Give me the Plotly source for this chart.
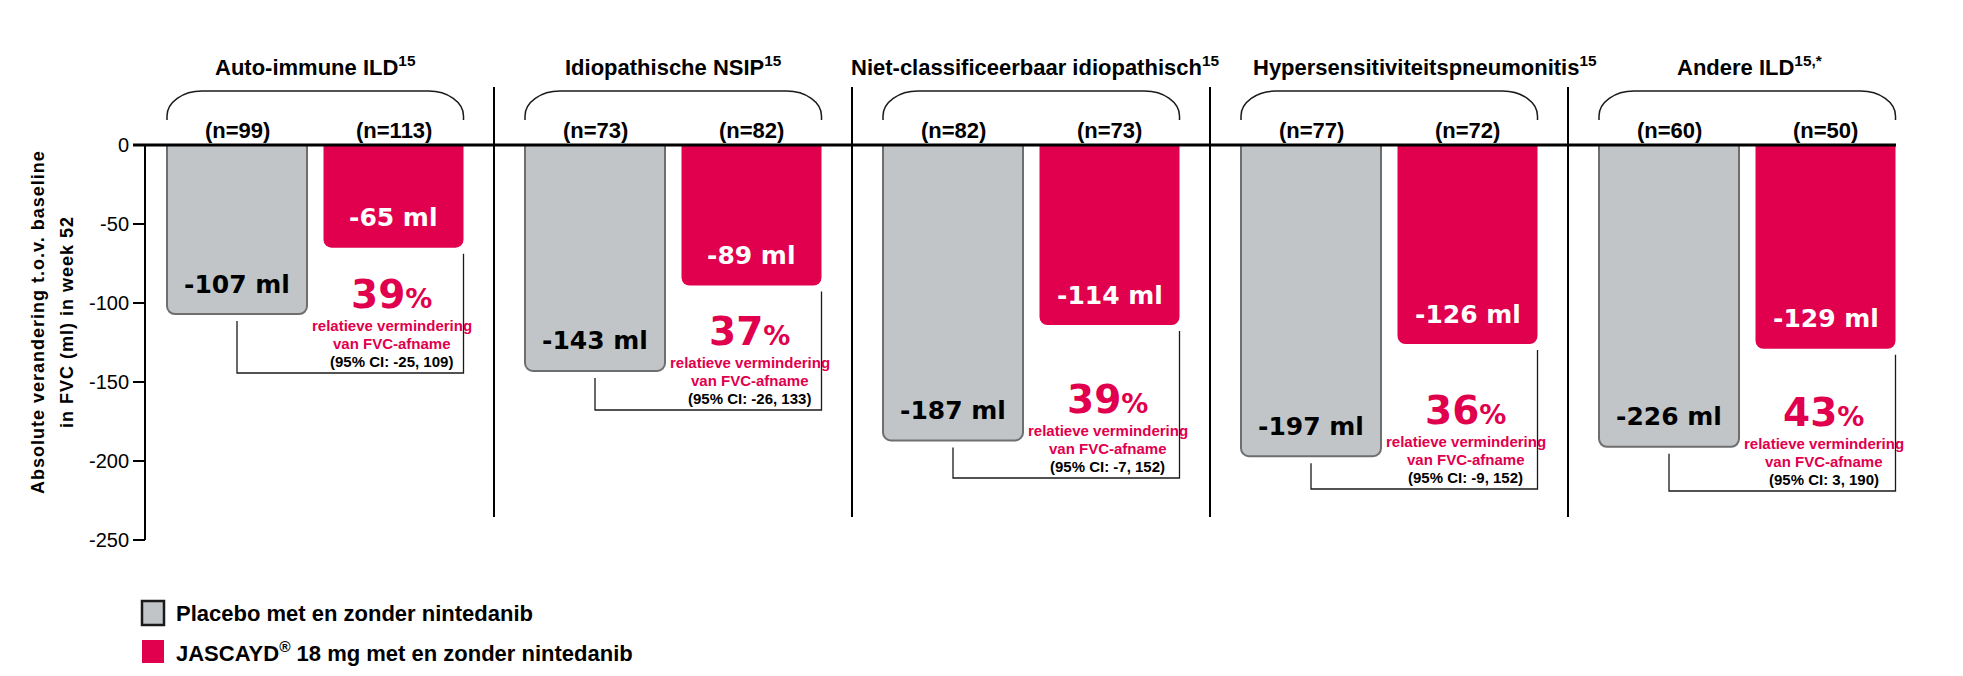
import plotly.graph_objects as go

# ---------------- data ----------------
groups = [
    "Auto-immune ILD<sup>15</sup>",
    "Idiopathische NSIP<sup>15</sup>",
    "Niet-classificeerbaar idiopathisch<sup>15</sup>",
    "Hypersensitiviteitspneumonitis<sup>15</sup>",
    "Andere ILD<sup>15,*</sup>",
]
n_placebo = [99, 73, 82, 77, 60]
n_jascayd = [113, 82, 73, 72, 50]
placebo_ml = [-107, -143, -187, -197, -226]      # printed values
placebo_bar = [-107, -143, -187, -197, -191]     # bar length as drawn in the picture
jascayd_ml = [-65, -89, -114, -126, -129]
rel_reduction = [39, 37, 39, 36, 43]
ci_low = [-25, -26, -7, -9, 3]
ci_high = [109, 133, 152, 152, 190]
y_ticks = [0, -50, -100, -150, -200, -250]
series_names = ["Placebo met en zonder nintedanib",
                "JASCAYD<sup>®</sup> 18 mg met en zonder nintedanib"]
y_title = ["Absolute verandering t.o.v. baseline", "in FVC (ml) in week 52"]

# ---------------- layout constants ----------------
W, H = 1963, 676
Y0 = 145.0        # pixel row of value 0
PXU = 1.58        # pixels per ml
def yv(py):
    return (Y0 - py) / PXU

GRAY = "#c1c5c8"
GRAY_EDGE = "#6e6e6e"
RED = "#e0004d"
FONT = "Liberation Sans, Arial, sans-serif"
HEAVY = "DejaVu Sans, Arial Black, sans-serif"

GX0, GSTEP, BAR_W, PAIR = 237, 358, 140, 156.5
gray_x = [GX0 + GSTEP * i for i in range(len(groups))]
red_x = [g + PAIR for g in gray_x]
ci_bracket_px = [373, 410, 478, 489, 491]
title_dx = [0, 0, 4, 36, 2]

fig = go.Figure()
fig.add_trace(go.Bar(x=gray_x, y=placebo_bar, width=BAR_W, name=series_names[0],
                     marker=dict(color=GRAY, line=dict(color=GRAY_EDGE, width=2), cornerradius=8),
                     showlegend=False, hoverinfo="skip"))
fig.add_trace(go.Bar(x=red_x, y=jascayd_ml, width=BAR_W, name=series_names[1],
                     marker=dict(color=RED, line=dict(width=0), cornerradius=8),
                     showlegend=False, hoverinfo="skip"))

shapes = []
ann = []

# zero line and y-axis line
shapes.append(dict(type="line", x0=133, x1=1896, y0=0, y1=0, xref="x", yref="y",
                   line=dict(color="black", width=3), layer="above"))
shapes.append(dict(type="line", x0=145, x1=145, y0=0, y1=-250, xref="x", yref="y",
                   line=dict(color="black", width=2), layer="above"))

# panel dividers
for i in range(len(groups) - 1):
    xd = gray_x[i] + 257
    shapes.append(dict(type="line", x0=xd, x1=xd, y0=yv(87), y1=yv(517), xref="x", yref="y",
                       line=dict(color="black", width=2)))

k = 0.5523
for i in range(len(groups)):
    L = gray_x[i] - BAR_W / 2
    R = red_x[i] + BAR_W / 2
    T, B = yv(91), yv(120)
    rx, ry = 35, 25 / PXU
    path = (f"M {L},{B} L {L},{T-ry} C {L},{T-ry+k*ry} {L+rx-k*rx},{T} {L+rx},{T} "
            f"L {R-rx},{T} C {R-rx+k*rx},{T} {R},{T-ry+k*ry} {R},{T-ry} L {R},{B}")
    shapes.append(dict(type="path", path=path, xref="x", yref="y",
                       line=dict(color="#1a1a1a", width=1.5)))

    # CI bracket under the bars
    yb = yv(ci_bracket_px[i])
    y_l = placebo_bar[i] - 7 / PXU
    y_r = jascayd_ml[i] - 6 / PXU
    path2 = f"M {gray_x[i]},{y_l} L {gray_x[i]},{yb} L {R},{yb} L {R},{y_r}"
    shapes.append(dict(type="path", path=path2, xref="x", yref="y",
                       line=dict(color="#1a1a1a", width=1.3)))

    cx = (L + R) / 2
    ann.append(dict(x=cx + title_dx[i], y=yv(66), text=groups[i], showarrow=False, xanchor="center",
                    yanchor="middle", font=dict(family=FONT, size=22, color="black", weight=700)))
    ann.append(dict(x=gray_x[i], y=yv(130), text=f"(n={n_placebo[i]})", showarrow=False,
                    xanchor="center", yanchor="middle",
                    font=dict(family=FONT, size=22, color="black", weight=700)))
    ann.append(dict(x=red_x[i], y=yv(130), text=f"(n={n_jascayd[i]})", showarrow=False,
                    xanchor="center", yanchor="middle",
                    font=dict(family=FONT, size=22, color="black", weight=700)))
    # value labels inside bars
    ann.append(dict(x=gray_x[i], y=placebo_bar[i] + 30 / PXU, text=f"{placebo_ml[i]} ml",
                    showarrow=False, xanchor="center", yanchor="middle",
                    font=dict(family=HEAVY, size=25, color="black", weight=700)))
    ann.append(dict(x=red_x[i], y=jascayd_ml[i] + 30 / PXU, text=f"{jascayd_ml[i]} ml",
                    showarrow=False, xanchor="center", yanchor="middle",
                    font=dict(family=HEAVY, size=25, color="white", weight=700)))
    # relative reduction block
    b = ci_bracket_px[i]
    ann.append(dict(x=red_x[i] - 2, y=yv(b - 79),
                    text=f"{rel_reduction[i]}<span style='font-size:27px'>%</span>",
                    showarrow=False, xanchor="center", yanchor="middle",
                    font=dict(family=HEAVY, size=39, color=RED, weight=700)))
    ann.append(dict(x=red_x[i] - 2, y=yv(b - 48), text="relatieve vermindering",
                    showarrow=False, xanchor="center", yanchor="middle",
                    font=dict(family=FONT, size=15, color=RED, weight=700)))
    ann.append(dict(x=red_x[i] - 2, y=yv(b - 30), text="van FVC-afname",
                    showarrow=False, xanchor="center", yanchor="middle",
                    font=dict(family=FONT, size=15, color=RED, weight=700)))
    ann.append(dict(x=red_x[i] - 2, y=yv(b - 11.5), text=f"(95% CI: {ci_low[i]}, {ci_high[i]})",
                    showarrow=False, xanchor="center", yanchor="middle",
                    font=dict(family=FONT, size=15, color="black", weight=700)))

# y-axis title (two lines)
for j, xx in enumerate([38, 67]):
    ann.append(dict(x=xx, y=yv(322),
                    text=f"<span style='letter-spacing:1px'>{y_title[j]}</span>",
                    textangle=-90, showarrow=False,
                    xanchor="center", yanchor="middle",
                    font=dict(family=FONT, size=18, color="black", weight=700)))

# legend
leg_colors = [(GRAY, "#1a1a1a", 2.5), (RED, RED, 0)]
leg_rows = [(601, 625), (640, 663)]
for j, (fc, lc, lw) in enumerate(leg_colors):
    t, btm = leg_rows[j]
    shapes.append(dict(type="rect", x0=142, x1=164, y0=yv(t), y1=yv(btm), xref="x", yref="y",
                       fillcolor=fc, line=dict(color=lc, width=lw)))
    ann.append(dict(x=174, y=yv((t + btm) / 2), text=series_names[j], showarrow=False,
                    xanchor="left", yanchor="middle",
                    font=dict(family=FONT, size=22, color="black", weight=700)))

fig.update_layout(
    width=W, height=H,
    margin=dict(l=0, r=0, t=0, b=0, pad=0),
    paper_bgcolor="white", plot_bgcolor="white",
    barmode="overlay",
    xaxis=dict(range=[0, W], visible=False, fixedrange=True),
    yaxis=dict(range=[yv(H), yv(0)], anchor="free", position=145 / W, side="left",
               tickvals=y_ticks, ticktext=[str(v) for v in y_ticks],
               ticks="outside", ticklen=12, tickwidth=2, tickcolor="black",
               tickfont=dict(family=FONT, size=20, color="black"),
               showline=False, showgrid=False, zeroline=False, fixedrange=True),
    shapes=shapes, annotations=ann,
    showlegend=False,
)

fig.write_html("out.html", config={"displayModeBar": False},
               post_script="document.body.style.margin='0';document.body.style.overflow='hidden';")
